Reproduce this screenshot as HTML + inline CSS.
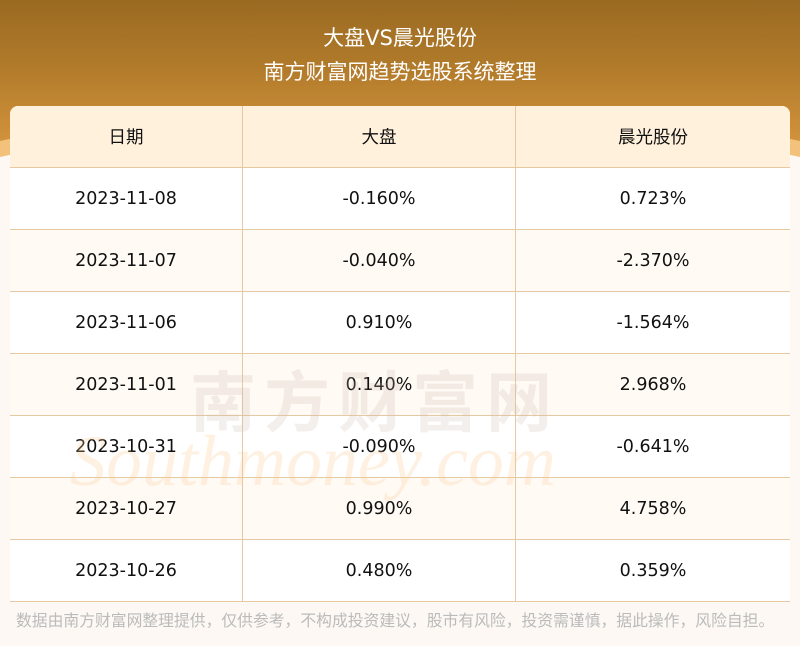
<!DOCTYPE html>
<html><head><meta charset="utf-8"><style>
body{margin:0;width:800px;height:646px;background:#fdf8f3;position:relative;overflow:hidden;font-family:"DejaVu Sans","Noto Sans CJK SC",sans-serif;}
.hdr{position:absolute;left:0;top:0;width:800px;height:185px;background:linear-gradient(180deg,#9a6a22 0%,#b07a2a 35%,#cc8e38 70%,#e0a048 100%);}
.arc{position:absolute;left:-147px;top:106px;width:1094px;height:220px;border-radius:50%;background:#f3c27a;}
.arc2{position:absolute;left:-147px;top:122px;width:1094px;height:220px;border-radius:50%;background:#fdf8f3;}
.t1,.t2{position:absolute;left:0;width:800px;text-align:center;color:#fff;font-size:21px;}
.t1{top:22px}.t2{top:56px}
table{position:absolute;left:10px;top:106px;width:780px;border-collapse:collapse;background:#fff;border-radius:8px 8px 0 0;overflow:hidden;}
td{height:61px;border:1px solid #e6c9a0;text-align:center;font-size:17.5px;color:#111;padding:0;}
tr:first-child td{border-top:none;background:#fff1dc;}
td:first-child{border-left:none;width:232px}td:nth-child(2){width:272px}td:last-child{border-right:none}
tr.a td{background:#fffaf4}
.wm{position:absolute;left:190px;top:350px;font-size:66px;color:rgba(200,180,170,.22);letter-spacing:8px;font-weight:bold}
.wm2{position:absolute;left:70px;top:420px;font-size:72px;color:rgba(250,200,140,.25);font-family:"Liberation Serif",serif;font-style:italic}
.ft{position:absolute;left:16px;top:608px;font-size:15.8px;color:#bbb;white-space:nowrap}
</style></head><body>
<div class="hdr"></div><div class="arc"></div><div class="arc2"></div>
<div class="t1">大盘VS晨光股份</div><div class="t2">南方财富网趋势选股系统整理</div>
<table>
<tr><td>日期</td><td>大盘</td><td>晨光股份</td></tr>
<tr><td>2023-11-08</td><td>-0.160%</td><td>0.723%</td></tr>
<tr class="a"><td>2023-11-07</td><td>-0.040%</td><td>-2.370%</td></tr>
<tr><td>2023-11-06</td><td>0.910%</td><td>-1.564%</td></tr>
<tr class="a"><td>2023-11-01</td><td>0.140%</td><td>2.968%</td></tr>
<tr><td>2023-10-31</td><td>-0.090%</td><td>-0.641%</td></tr>
<tr class="a"><td>2023-10-27</td><td>0.990%</td><td>4.758%</td></tr>
<tr><td>2023-10-26</td><td>0.480%</td><td>0.359%</td></tr>
</table>
<div class="wm">南方财富网</div><div class="wm2">Southmoney.com</div>
<div class="ft">数据由南方财富网整理提供，仅供参考，不构成投资建议，股市有风险，投资需谨慎，据此操作，风险自担。</div>
</body></html>
